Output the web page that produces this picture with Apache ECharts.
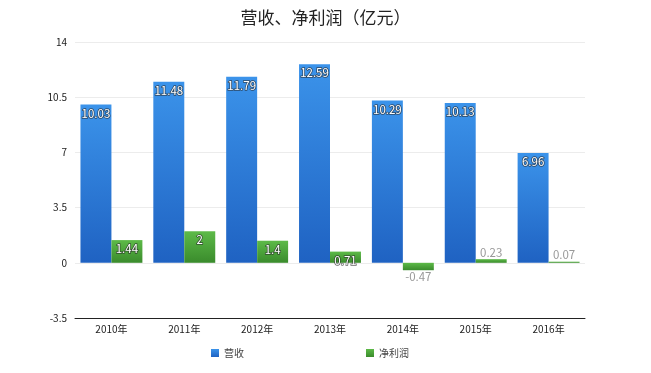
<!DOCTYPE html>
<html><head><meta charset="utf-8">
<script src="https://cdn.jsdelivr.net/npm/echarts@6/dist/echarts.min.js"></script>
<style>html,body{margin:0;padding:0;background:#fff}#c{width:651px;height:373px}</style>
</head><body><div id="c"></div>
<script>
const categories = ['2010年','2011年','2012年','2013年','2014年','2015年','2016年'];
const revenue = [10.03, 11.48, 11.79, 12.59, 10.29, 10.13, 6.96];
const profit = [1.44, 2, 1.4, 0.71, -0.47, 0.23, 0.07];
const seriesNames = ['营收', '净利润'];
const yTicks = [-3.5, 0, 3.5, 7, 10.5, 14];

const font = '"Noto Sans CJK SC", "Liberation Sans", sans-serif';
const chart = echarts.init(document.getElementById('c'));
const grad = (a, b) => new echarts.graphic.LinearGradient(0, 0, 0, 1, [{offset: 0, color: a}, {offset: 1, color: b}]);
const lbl = {
  show: true, position: 'insideTop', distance: 3,
  color: '#fff', fontSize: 11.5, fontFamily: font,
  textBorderColor: 'rgba(40,40,40,0.7)', textBorderWidth: 1.5
};
chart.setOption({
  animation: false,
  title: { text: '营收、净利润（亿元）', left: 'center', top: 4,
    textStyle: { fontSize: 17, fontWeight: 'normal', color: '#222', fontFamily: font } },
  legend: { bottom: 10, left: 206, itemGap: 122, itemWidth: 8, itemHeight: 8, icon: 'rect',
    textStyle: { fontSize: 10, color: '#444', fontFamily: font },
    data: seriesNames },
  grid: { left: 75, right: 66, top: 42, bottom: 55 },
  xAxis: { type: 'category', data: categories,
    axisLine: { onZero: false, lineStyle: { color: '#222', width: 1 } },
    axisTick: { show: false },
    axisLabel: { fontSize: 10, color: '#222', fontFamily: font, margin: 6 } },
  yAxis: { type: 'value', min: yTicks[0], max: yTicks[yTicks.length - 1], interval: 3.5,
    axisLine: { show: false }, axisTick: { show: false },
    axisLabel: { fontSize: 10, color: '#222', fontFamily: font, margin: 8 },
    splitLine: { lineStyle: { color: '#ececec' } } },
  series: [
    { name: seriesNames[0], type: 'bar', data: revenue, barGap: '0%', barCategoryGap: '15%',
      itemStyle: { color: grad('#3b93ea', '#1f62c2') }, label: lbl },
    { name: seriesNames[1], type: 'bar', data: profit.map(v => {
        const o = { value: v };
        if (v < 0) o.label = { position: 'bottom', distance: 1, color: '#999', textBorderColor: '#fff' };
        else if (v < 0.5) o.label = { position: 'top', distance: 1, color: '#999', textBorderColor: '#fff' };
        return o;
      }),
      itemStyle: { color: grad('#5dba48', '#3a8b2c') }, label: lbl }
  ]
});
</script></body></html>
